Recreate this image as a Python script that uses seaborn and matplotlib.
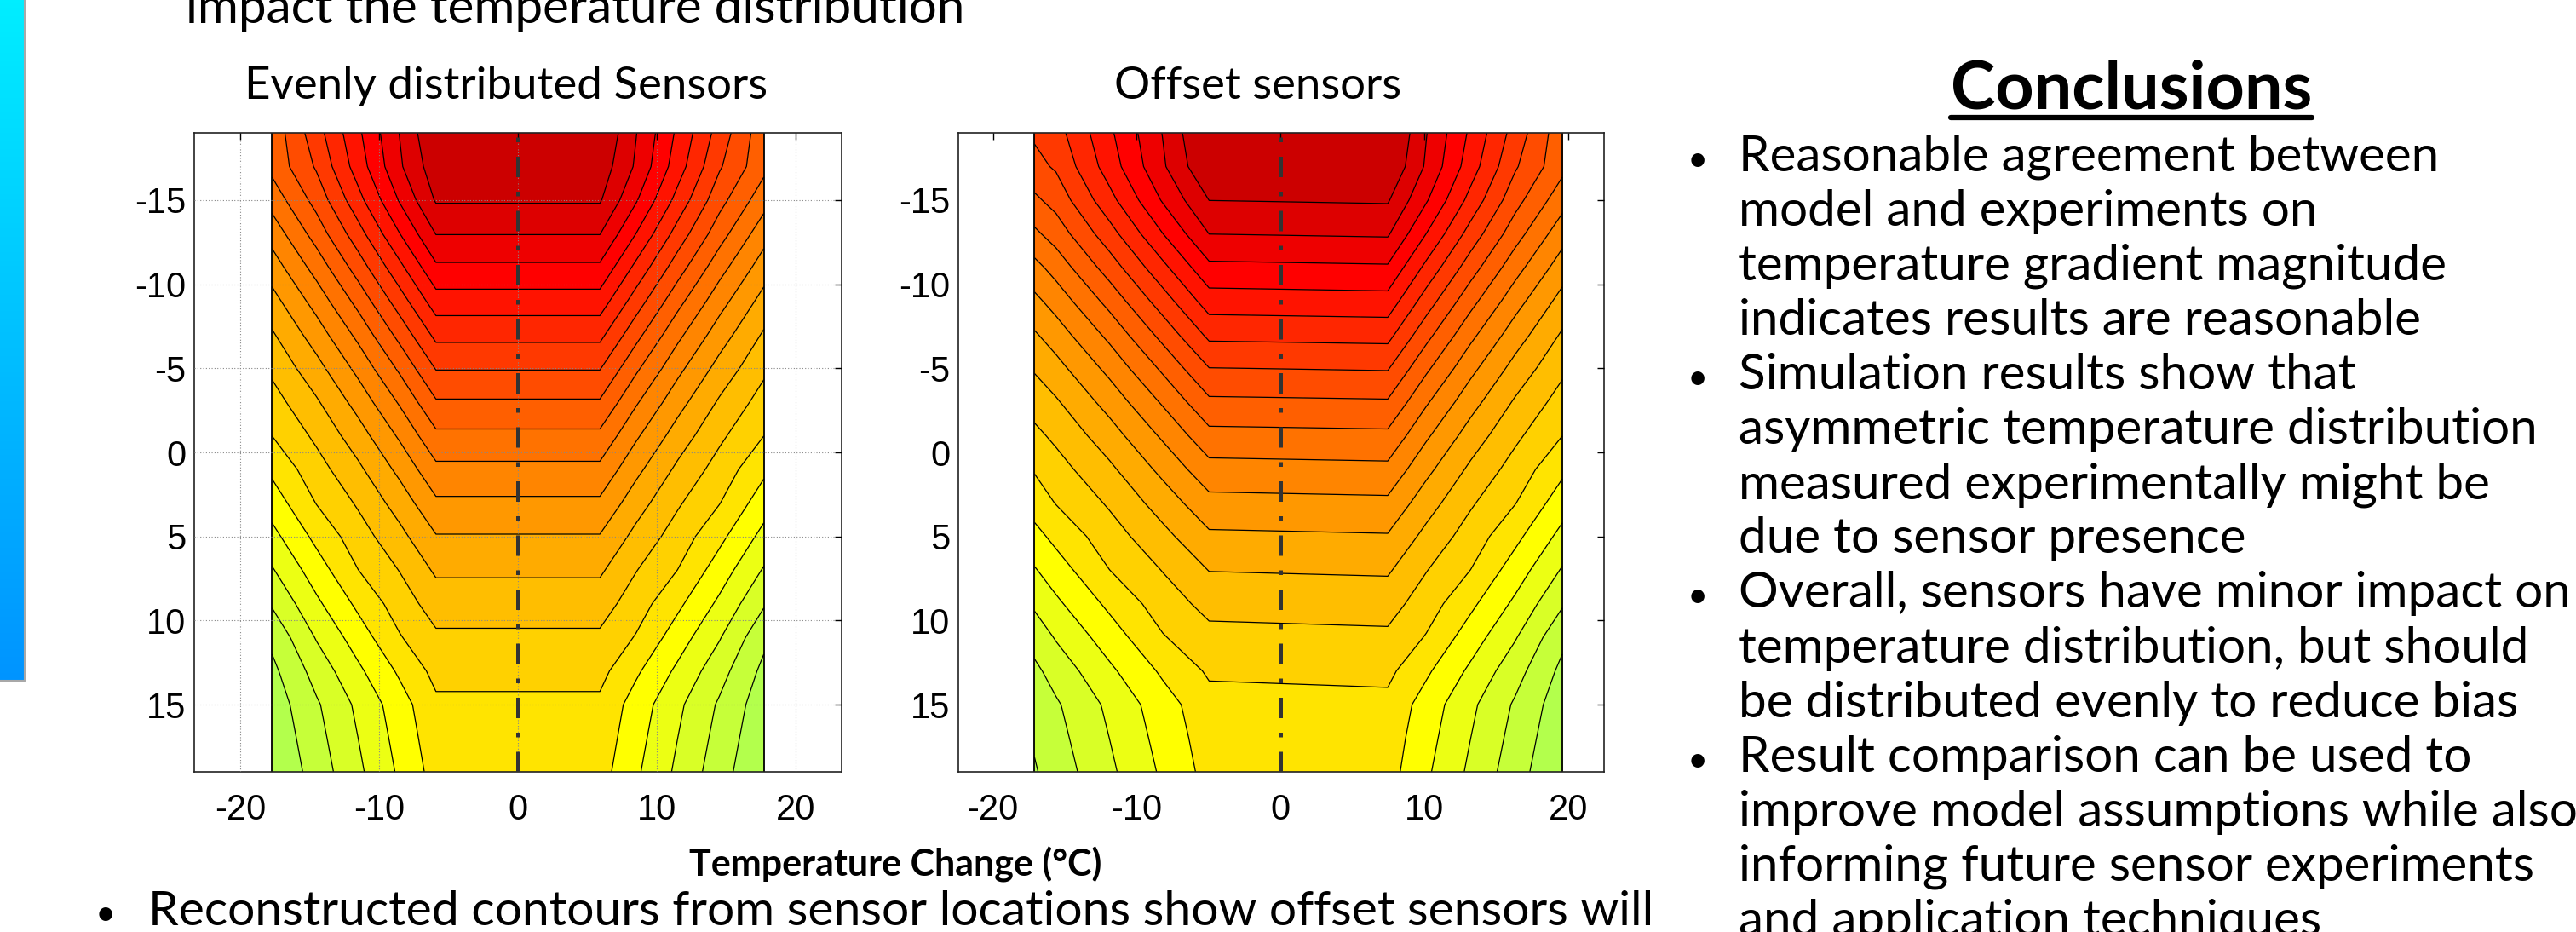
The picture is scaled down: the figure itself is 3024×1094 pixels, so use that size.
import numpy as np
import matplotlib
matplotlib.use("Agg")
import matplotlib.pyplot as plt
from matplotlib.colors import LinearSegmentedColormap
from matplotlib.lines import Line2D
import seaborn as sns

# rows (vertical position) shared by both maps
y_rows = [-19, -17, -15, -13, -11, -9, -7, -5, -3, -1, 1, 3, 5, 7, 9, 11, 13, 15, 17, 19]

# columns of the two maps
x_even = [-17.7, -14.5, -11.5, -8.5, -5.9, 5.9, 8.5, 11.5, 14.5, 17.7]
x_offset = [-17.1, -15.62, -11.9, -8.18, -4.96, 7.46, 10.14, 13.23, 16.32, 19.6]

# field values (contour level units)
t_even = [
    [8.65, 6.41, 4.19, 1.96, 0.00, 0.00, 1.96, 4.19, 6.41, 8.65],
    [8.72, 6.88, 4.53, 2.14, 0.40, 0.40, 2.14, 4.53, 6.88, 8.72],
    [9.61, 7.64, 5.34, 2.90, 0.90, 0.90, 2.90, 5.34, 7.64, 9.61],
    [10.60, 8.57, 6.41, 4.01, 1.97, 1.97, 4.01, 6.41, 8.57, 10.60],
    [11.51, 9.61, 7.54, 5.26, 3.18, 3.18, 5.26, 7.54, 9.61, 11.51],
    [12.36, 10.60, 8.67, 6.48, 4.45, 4.45, 6.48, 8.67, 10.60, 12.36],
    [13.12, 11.51, 9.74, 7.67, 5.72, 5.72, 7.67, 9.74, 11.51, 13.12],
    [13.79, 12.35, 10.72, 8.81, 6.94, 6.94, 8.81, 10.72, 12.35, 13.79],
    [14.41, 13.12, 11.62, 9.87, 8.10, 8.10, 9.87, 11.62, 13.12, 14.41],
    [14.99, 13.79, 12.45, 10.84, 9.22, 9.22, 10.84, 12.45, 13.79, 14.99],
    [15.78, 14.40, 13.20, 11.73, 10.24, 10.24, 11.73, 13.20, 14.40, 15.78],
    [16.54, 14.96, 13.87, 12.55, 11.18, 11.18, 12.55, 13.87, 14.96, 16.54],
    [17.31, 15.73, 14.46, 13.29, 12.06, 12.06, 13.29, 14.46, 15.73, 17.31],
    [18.09, 16.48, 15.01, 13.96, 12.84, 12.84, 13.96, 15.01, 16.48, 18.09],
    [18.89, 17.20, 15.78, 14.51, 13.54, 13.54, 14.51, 15.78, 17.20, 18.89],
    [19.75, 17.92, 16.51, 15.07, 14.17, 14.17, 15.07, 16.51, 17.92, 19.75],
    [20.25, 18.61, 17.20, 15.83, 14.70, 14.70, 15.83, 17.20, 18.61, 20.25],
    [20.59, 19.13, 17.79, 16.44, 15.19, 15.19, 16.44, 17.79, 19.13, 20.59],
    [20.80, 19.34, 18.00, 16.64, 15.40, 15.40, 16.64, 18.00, 19.34, 20.80],
    [21.00, 19.55, 18.20, 16.84, 15.60, 15.60, 16.84, 18.20, 19.55, 21.00],
]
t_offset = [
    [6.85, 6.41, 4.19, 1.96, -0.30, -0.30, 1.96, 4.19, 6.41, 8.65],
    [7.30, 6.88, 4.53, 2.14, 0.05, 0.05, 2.14, 4.53, 6.88, 8.72],
    [8.20, 7.64, 5.34, 2.90, 0.99, 0.90, 2.90, 5.34, 7.64, 9.61],
    [9.20, 8.57, 6.41, 4.01, 1.99, 1.88, 4.01, 6.41, 8.57, 10.60],
    [10.32, 9.61, 7.54, 5.26, 3.23, 3.12, 5.26, 7.54, 9.61, 11.51],
    [11.25, 10.60, 8.67, 6.48, 4.49, 4.38, 6.48, 8.67, 10.60, 12.36],
    [12.11, 11.51, 9.74, 7.67, 5.76, 5.66, 7.67, 9.74, 11.51, 13.12],
    [12.89, 12.35, 10.72, 8.81, 7.02, 6.92, 8.81, 10.72, 12.35, 13.79],
    [13.60, 13.12, 11.62, 9.87, 8.19, 8.10, 9.87, 11.62, 13.12, 14.41],
    [14.24, 13.79, 12.45, 10.84, 9.31, 9.22, 10.84, 12.45, 13.79, 14.99],
    [14.91, 14.40, 13.20, 11.73, 10.35, 10.25, 11.73, 13.20, 14.40, 15.78],
    [15.55, 14.96, 13.87, 12.55, 11.31, 11.21, 12.55, 13.87, 14.96, 16.54],
    [16.32, 15.73, 14.46, 13.29, 12.18, 12.08, 13.29, 14.46, 15.73, 17.31],
    [17.08, 16.48, 15.01, 13.96, 12.97, 12.87, 13.96, 15.01, 16.48, 18.09],
    [17.83, 17.20, 15.78, 14.51, 13.68, 13.58, 14.51, 15.78, 17.20, 18.89],
    [18.60, 17.92, 16.51, 15.07, 14.30, 14.20, 15.07, 16.51, 17.92, 19.75],
    [19.22, 18.61, 17.20, 15.83, 14.86, 14.76, 15.83, 17.20, 18.61, 20.25],
    [19.67, 19.13, 17.79, 16.44, 15.33, 15.25, 16.44, 17.79, 19.13, 20.59],
    [19.88, 19.34, 18.00, 16.64, 15.50, 15.45, 16.64, 18.00, 19.34, 20.80],
    [20.09, 19.55, 18.20, 16.84, 15.65, 15.60, 16.84, 18.20, 19.55, 21.00],
]

line_levels = list(range(1, 21))
fill_levels = [-5] + line_levels + [25]

x_ticks = [-20, -10, 0, 10, 20]
y_ticks = [-15, -10, -5, 0, 5, 10, 15]

panel_titles = ["Evenly distributed Sensors", "Offset sensors"]
x_label = "Temperature Change (\u00b0C)"
top_line = "impact the temperature distribution"
bottom_line = "Reconstructed contours from sensor locations show offset sensors will"
conclusions_title = "Conclusions"
conclusions = [
    ("\u2022", "Reasonable agreement between"),
    ("", "model and experiments on"),
    ("", "temperature gradient magnitude"),
    ("", "indicates results are reasonable"),
    ("\u2022", "Simulation results show that"),
    ("", "asymmetric temperature distribution"),
    ("", "measured experimentally might be"),
    ("", "due to sensor presence"),
    ("\u2022", "Overall, sensors have minor impact on"),
    ("", "temperature distribution, but should"),
    ("", "be distributed evenly to reduce bias"),
    ("\u2022", "Result comparison can be used to"),
    ("", "improve model assumptions while also"),
    ("", "informing future sensor experiments"),
    ("", "and application techniques"),
]

# jet-like band colours, dark red at the top down to yellow-green
band_colors = sns.color_palette([
    "#CC0000", "#DD0000", "#EE0000", "#FF0000", "#FF1300", "#FF2600", "#FF3900",
    "#FF4C00", "#FF5F00", "#FF7200", "#FF8500", "#FF9800", "#FFAB00", "#FFBE00",
    "#FFD100", "#FFE400", "#FFFF00", "#ECFF13", "#D9FF26", "#C6FF39", "#B3FF4C",
])

sns.set_theme(style="white")
plt.rcParams["font.family"] = ["Lato", "DejaVu Sans"]
plt.rcParams["axes.unicode_minus"] = False
plt.rcParams["text.color"] = "black"

W, H = 3024, 1094
fig = plt.figure(figsize=(W / 100, H / 100), dpi=100)
fig.patch.set_facecolor("white")


def fx(px):
    return px / W


def fy(py):
    return 1 - py / H


def draw_panel(ax, xs, field, xlim, grid):
    ax.contourf(xs, y_rows, field, levels=fill_levels, colors=band_colors)
    ax.contour(xs, y_rows, field, levels=line_levels, colors="black", linewidths=0.9)
    ax.axvline(xs[0], color="black", lw=1.3, zorder=2)
    ax.axvline(xs[-1], color="black", lw=1.3, zorder=2)
    ax.axvline(0, color="#333333", lw=3.6, ls=(0, (4.8, 3.4, 1.1, 3.4)), zorder=4)
    ax.set_xlim(*xlim)
    ax.set_ylim(19, -19)
    ax.set_xticks(x_ticks)
    ax.set_yticks(y_ticks)
    ax.tick_params(direction="in", top=True, right=True, length=6, width=1,
                   colors="black", labelsize=30, labelfontfamily="Liberation Sans")
    ax.tick_params(axis="y", pad=7)
    ax.tick_params(axis="x", pad=18)
    for s in ax.spines.values():
        s.set_visible(True)
        s.set_color("#222222")
        s.set_linewidth(1.2)
    ax.set_axisbelow(False)
    if grid:
        ax.grid(True, color="#888888", ls=(0, (1, 2)), lw=0.8)
    else:
        ax.grid(False)


ax1 = fig.add_axes([fx(228), fy(906), fx(988 - 228), (906 - 156) / H])
draw_panel(ax1, x_even, t_even, (-23.3, 23.3), True)
ax2 = fig.add_axes([fx(1125), fy(906), fx(1883 - 1125), (906 - 156) / H])
draw_panel(ax2, x_offset, t_offset, (-22.4, 22.5), False)

# blue strip of the neighbouring poster panel
ax_s = fig.add_axes([0, fy(799), fx(29), 799 / H])
strip = LinearSegmentedColormap.from_list("strip", ["#00EEFF", "#00C0FF", "#0094FF"])
ax_s.imshow(np.linspace(0, 1, 256)[:, None], aspect="auto", cmap=strip)
ax_s.axis("off")
fig.add_artist(Line2D([fx(29), fx(29)], [fy(799), 1], color="#A8A8A8", lw=1.5))
fig.add_artist(Line2D([0, fx(29)], [fy(799), fy(799)], color="#A8A8A8", lw=1.5))

body = 42
fig.text(fx(218), fy(27), top_line, fontsize=body, va="baseline")
fig.text(fx(594), fy(116), panel_titles[0], fontsize=38, ha="center", va="baseline")
fig.text(fx(1476), fy(116), panel_titles[1], fontsize=38, ha="center", va="baseline")
fig.text(fx(1051), fy(1029), x_label, fontsize=31, fontweight="bold",
         ha="center", va="baseline")
fig.text(fx(112), fy(1086), "\u2022", fontsize=30, va="baseline")
fig.text(fx(174), fy(1086), bottom_line, fontsize=41, va="baseline")

ct = fig.text(fx(2502), fy(127), conclusions_title, fontsize=57, fontweight="bold",
              ha="center", va="baseline")
fig.canvas.draw()
bb = ct.get_window_extent(fig.canvas.get_renderer())
fig.add_artist(Line2D([bb.x0 / W, bb.x1 / W], [fy(138), fy(138)], color="black", lw=4.5))

for i, (mark, line) in enumerate(conclusions):
    yb = fy(200.6 + 64.1 * i)
    if mark:
        fig.text(fx(1981), yb, mark, fontsize=30, va="baseline")
    fig.text(fx(2041), yb, line, fontsize=body, va="baseline")

fig.savefig("out.png", dpi=100)
